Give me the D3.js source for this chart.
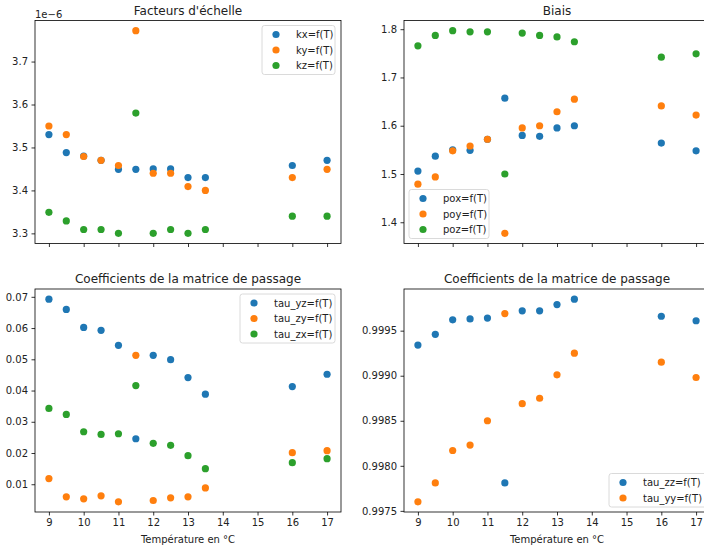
<!DOCTYPE html>
<html>
<head>
<meta charset="utf-8">
<script src="https://cdn.jsdelivr.net/npm/d3@7"></script>
<style>
  body { margin: 0; background: #fff; }
  svg { display: block; font-family: "DejaVu Sans", sans-serif; }
</style>
</head>
<body>
<svg id="chart" width="704" height="551"></svg>
<script>
// ---------- DATA ----------
const temps = [9, 9.5, 10, 10.5, 11, 11.5, 12, 12.5, 13, 13.5, 16, 17];

// Facteurs d'échelle (x 1e-6)
const kx = [3.530, 3.488, 3.480, 3.470, 3.449, 3.449, 3.450, 3.450, 3.430, 3.430, 3.458, 3.470];
const ky = [3.550, 3.530, 3.479, 3.470, 3.458, 3.772, 3.440, 3.440, 3.409, 3.400, 3.430, 3.449];
const kz = [3.349, 3.329, 3.309, 3.309, 3.300, 3.580, 3.300, 3.309, 3.300, 3.309, 3.340, 3.340];

// Biais
const pox = [1.506, 1.537, 1.550, 1.549, 1.572, 1.657, 1.580, 1.578, 1.5955, 1.600, 1.564, 1.548];
const poy = [1.479, 1.494, 1.548, 1.558, 1.572, 1.377, 1.5955, 1.600, 1.629, 1.655, 1.641, 1.622];
const poz = [1.7656, 1.787, 1.797, 1.7945, 1.7945, 1.500, 1.792, 1.787, 1.784, 1.774, 1.742, 1.749];

// Coefficients de la matrice de passage (hors diagonale)
const tau_yz = [0.06926, 0.06596, 0.06021, 0.05926, 0.05447, 0.02457, 0.05128, 0.04989, 0.04415, 0.03883, 0.04128, 0.04521];
const tau_zy = [0.01181, 0.00596, 0.00532, 0.00628, 0.00436, 0.05128, 0.00479, 0.00564, 0.00596, 0.00883, 0.02011, 0.02074];
const tau_zx = [0.03426, 0.03234, 0.02681, 0.02596, 0.02617, 0.04160, 0.02309, 0.02245, 0.01915, 0.01500, 0.01691, 0.01819];

// Coefficients de la matrice de passage (diagonale)
const tau_zz = [0.99934, 0.99946, 0.99962, 0.99963, 0.99964, 0.99781, 0.99972, 0.99972, 0.99979, 0.99985, 0.99966, 0.99961];
const tau_yy = [0.99760, 0.99781, 0.99817, 0.99823, 0.99850, 0.99969, 0.99869, 0.99875, 0.99901, 0.99925, 0.99915, 0.99898];

const xTicks = [9, 10, 11, 12, 13, 14, 15, 16, 17];
const ticksTL = [3.3, 3.4, 3.5, 3.6, 3.7];
const ticksTR = [1.4, 1.5, 1.6, 1.7, 1.8];
const ticksBL = [0.01, 0.02, 0.03, 0.04, 0.05, 0.06, 0.07];
const ticksBR = [0.9975, 0.9980, 0.9985, 0.9990, 0.9995];

const colors = ["#1f77b4", "#ff7f0e", "#2ca02c"];

// ---------- LAYOUT ----------
const svg = d3.select("#chart");
const W = 306, H = 223;
const panels = [
  { x: 35, y: 20.5, title: "Facteurs d'échelle", series: [["kx=f(T)", kx], ["ky=f(T)", ky], ["kz=f(T)", kz]],
    ticks: ticksTL, fmt: d3.format(".1f"), xlabels: false, legend: "ur", offset: "1e\u22126", legW: 73 },
  { x: 404, y: 20.5, title: "Biais", series: [["pox=f(T)", pox], ["poy=f(T)", poy], ["poz=f(T)", poz]],
    ticks: ticksTR, fmt: d3.format(".1f"), xlabels: false, legend: "ll", legW: 80 },
  { x: 35, y: 289, title: "Coefficients de la matrice de passage", series: [["tau_yz=f(T)", tau_yz], ["tau_zy=f(T)", tau_zy], ["tau_zx=f(T)", tau_zx]],
    ticks: ticksBL, fmt: d3.format(".2f"), xlabels: true, legend: "ur", legW: 95 },
  { x: 404, y: 289, title: "Coefficients de la matrice de passage", series: [["tau_zz=f(T)", tau_zz], ["tau_yy=f(T)", tau_yy]],
    ticks: ticksBR, fmt: d3.format(".4f"), xlabels: true, legend: "lr", legW: 100 }
];

const xExt = d3.extent(temps);
const xPad = (xExt[1] - xExt[0]) * 0.05;

panels.forEach(p => {
  const g = svg.append("g").attr("transform", `translate(${p.x},${p.y})`);
  const all = p.series.flatMap(s => s[1]);
  const ext = d3.extent(all);
  const pad = (ext[1] - ext[0]) * 0.05;
  const x = d3.scaleLinear().domain([xExt[0] - xPad, xExt[1] + xPad]).range([0, W]);
  const y = d3.scaleLinear().domain([ext[0] - pad, ext[1] + pad]).range([H, 0]);

  // points
  p.series.forEach((s, i) => {
    g.append("g").selectAll("circle").data(s[1]).join("circle")
      .attr("cx", (d, j) => x(temps[j]))
      .attr("cy", d => y(d))
      .attr("r", 3.6)
      .attr("fill", colors[i]);
  });

  // axes
  const xa = d3.axisBottom(x).tickValues(xTicks).tickSize(3.5).tickPadding(3.5)
    .tickFormat(p.xlabels ? d3.format("d") : () => "");
  const ya = d3.axisLeft(y).tickValues(p.ticks).tickSize(3.5).tickPadding(3.5).tickFormat(p.fmt);
  const gx = g.append("g").attr("transform", `translate(0,${H})`).call(xa);
  const gy = g.append("g").call(ya);
  [gx, gy].forEach(a => {
    a.select(".domain").remove();
    a.selectAll(".tick line").attr("stroke", "#000").attr("stroke-width", 0.8);
    a.selectAll(".tick text").attr("font-size", 10).attr("fill", "#222").attr("font-family", "DejaVu Sans");
  });

  // frame
  g.append("rect").attr("x", 0).attr("y", 0).attr("width", W).attr("height", H)
    .attr("fill", "none").attr("stroke", "#000").attr("stroke-width", 0.8);

  // title
  g.append("text").attr("x", W / 2).attr("y", -6).attr("text-anchor", "middle")
    .attr("font-size", 12).attr("fill", "#222").text(p.title);

  if (p.offset) {
    g.append("text").attr("x", 0).attr("y", -3).attr("font-size", 10).attr("fill", "#222").text(p.offset);
  }
  if (p.xlabels) {
    g.append("text").attr("x", W / 2).attr("y", H + 31).attr("text-anchor", "middle")
      .attr("font-size", 10).attr("fill", "#222").text("Température en °C");
  }

  // legend
  const n = p.series.length;
  const lh = 15.5 * (n - 1) + 18;
  const lw = p.legW;
  let lx, ly;
  if (p.legend === "ur") { lx = W - 6 - lw; ly = 5; }
  else if (p.legend === "ll") { lx = 5; ly = H - 5 - lh; }
  else { lx = W - 1 - lw; ly = H - 5 - lh; }
  const lg = g.append("g").attr("transform", `translate(${lx},${ly})`);
  lg.append("rect").attr("width", lw).attr("height", lh).attr("rx", 2.5)
    .attr("fill", "#fff").attr("fill-opacity", 0.8).attr("stroke", "#d0d0d0").attr("stroke-width", 0.8);
  p.series.forEach((s, i) => {
    const cy = 9 + i * 15.5;
    lg.append("circle").attr("cx", 14).attr("cy", cy).attr("r", 3.6).attr("fill", colors[i]);
    lg.append("text").attr("x", 34).attr("y", cy).attr("dy", "0.35em")
      .attr("font-size", 10).attr("fill", "#222").text(s[0]);
  });
});
</script>
</body>
</html>
